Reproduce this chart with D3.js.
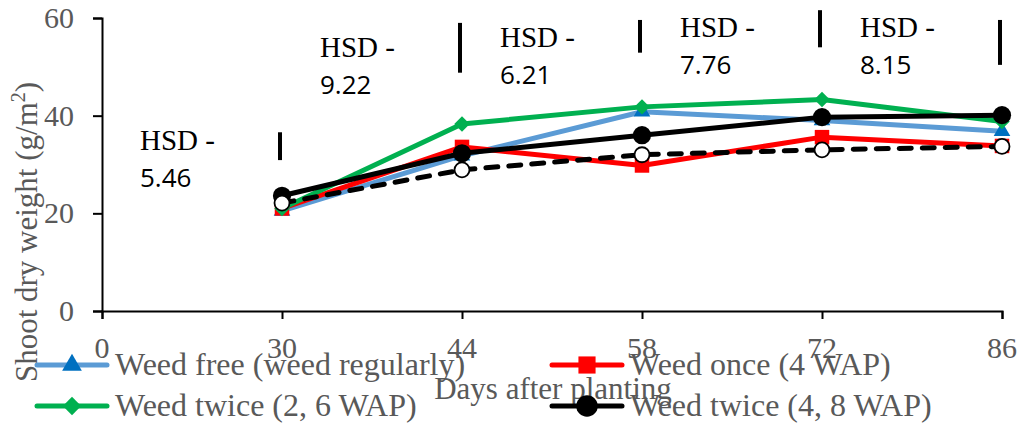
<!DOCTYPE html>
<html>
<head>
<meta charset="utf-8">
<script src="https://cdn.jsdelivr.net/npm/d3@7"></script>
<style>
    body { margin: 0; background: #fff; }
    .tick-label, .legend-text, .axis-title { font-family: "Liberation Serif", "Times New Roman", serif; fill: #595959; }
    .hsd-head { font-family: "Liberation Serif", "Times New Roman", serif; fill: #000; font-size: 29px; }
    .hsd-num { font-family: "Open Sans", sans-serif; fill: #000; font-size: 26px; }
</style>
</head>
<body>
<div id="chart"></div>
<script>
// 数据
const categories = ["0", "30", "44", "58", "72", "86"];
const days = ["30", "44", "58", "72", "86"];
const weedFree = [20.5, 31.8, 40.8, 39.0, 36.8];
const weedOnce = [21.0, 33.6, 29.8, 35.6, 33.8];
const weedTwice26 = [21.0, 38.3, 41.8, 43.3, 38.8];
const weedTwice48 = [23.6, 32.3, 36.0, 39.7, 40.1];
const weedyDashed = [22.1, 28.9, 32.0, 33.0, 33.7];
const yTicks = [0, 20, 40, 60];
const hsdValues = ["5.46", "9.22", "6.21", "7.76", "8.15"];
const hsdTop = [36.6, 59.0, 59.6, 61.6, 59.6];
const hsdBottom = [30.9, 48.8, 52.9, 54.0, 50.4];
const seriesNames = ["Weed free (weed regularly)", "Weed once (4 WAP)", "Weed twice (2, 6 WAP)", "Weed twice (4, 8 WAP)"];

let width = 1027;
let height = 427;

let svg = d3.select("#chart")
    .append("svg")
    .attr("width", width)
    .attr("height", height);

// 比例尺
let xScale = d3.scalePoint()
    .domain(categories)
    .range([102, 1002]);

let yScale = d3.scaleLinear()
    .domain([0, 60])
    .range([311, 18]);

// 菱形标记：正方形旋转45度
let diamond = {
    draw: function (context, size) {
        let r = Math.sqrt(size / 2);
        context.moveTo(0, -r);
        context.lineTo(r, 0);
        context.lineTo(0, r);
        context.lineTo(-r, 0);
        context.closePath();
    }
};

// 系列样式
let series = [
    {name: seriesNames[0], values: weedFree, line: "#5B9BD5", marker: "#0070C0", symbol: d3.symbolTriangle, size: 120},
    {name: seriesNames[1], values: weedOnce, line: "#FF0000", marker: "#FF0000", symbol: d3.symbolSquare, size: 210},
    {name: seriesNames[2], values: weedTwice26, line: "#00B050", marker: "#00B050", symbol: diamond, size: 120},
    {name: seriesNames[3], values: weedTwice48, line: "#000000", marker: "#000000", symbol: d3.symbolCircle, size: 260}
];

// 坐标轴
let xAxis = svg.append("g")
    .attr("transform", "translate(0," + yScale(0) + ")")
    .call(d3.axisBottom(xScale).tickSize(8).tickFormat(""));
xAxis.select(".domain").attr("stroke", "#000").attr("stroke-width", 2);
xAxis.selectAll(".tick line").attr("stroke", "#000").attr("stroke-width", 2);

let yAxis = svg.append("g")
    .attr("transform", "translate(" + xScale("0") + ",0)")
    .call(d3.axisLeft(yScale).tickValues(yTicks).tickSize(9).tickFormat(""));
yAxis.select(".domain").attr("stroke", "#000").attr("stroke-width", 2);
yAxis.selectAll(".tick line").attr("stroke", "#000").attr("stroke-width", 2);

// 刻度文字
svg.selectAll(".x-label")
    .data(categories)
    .enter()
    .append("text")
    .attr("class", "tick-label")
    .attr("x", d => xScale(d))
    .attr("y", 358)
    .attr("text-anchor", "middle")
    .style("font-size", "30px")
    .text(d => d);

svg.selectAll(".y-label")
    .data(yTicks)
    .enter()
    .append("text")
    .attr("class", "tick-label")
    .attr("x", 74)
    .attr("y", d => yScale(d))
    .attr("dy", "0.33em")
    .attr("text-anchor", "end")
    .style("font-size", "30px")
    .text(d => d);

// 轴标题
svg.append("text")
    .attr("class", "axis-title")
    .attr("x", 553)
    .attr("y", 399)
    .attr("text-anchor", "middle")
    .style("font-size", "31px")
    .text("Days after planting");

let yTitle = svg.append("text")
    .attr("class", "axis-title")
    .attr("transform", "translate(37,232) rotate(-90)")
    .attr("text-anchor", "middle")
    .style("font-size", "31px");
yTitle.append("tspan").text("Shoot dry weight (g/m");
yTitle.append("tspan").attr("dy", -12).style("font-size", "20px").text("2");
yTitle.append("tspan").attr("dy", 12).text(")");

// HSD 标注
let hsdLabelBase = [150, 57, 47, 37, 37];
svg.selectAll(".hsd-bar")
    .data(days)
    .enter()
    .append("line")
    .attr("x1", d => xScale(d) - 2)
    .attr("x2", d => xScale(d) - 2)
    .attr("y1", (d, i) => yScale(hsdTop[i]))
    .attr("y2", (d, i) => yScale(hsdBottom[i]))
    .attr("stroke", "#000")
    .attr("stroke-width", 4);

svg.selectAll(".hsd-head")
    .data(days)
    .enter()
    .append("text")
    .attr("class", "hsd-head")
    .attr("x", d => xScale(d) - 142)
    .attr("y", (d, i) => hsdLabelBase[i])
    .text("HSD -");

svg.selectAll(".hsd-num")
    .data(hsdValues)
    .enter()
    .append("text")
    .attr("class", "hsd-num")
    .attr("x", (d, i) => xScale(days[i]) - 142)
    .attr("y", (d, i) => hsdLabelBase[i] + 37)
    .text(d => d);

// 折线
let line = d3.line()
    .x((d, i) => xScale(days[i]))
    .y(d => yScale(d));

series.forEach(s => {
    svg.append("path")
        .datum(s.values)
        .attr("d", line)
        .attr("fill", "none")
        .attr("stroke", s.line)
        .attr("stroke-width", 5)
        .attr("stroke-linejoin", "round");
    svg.selectAll(null)
        .data(s.values)
        .enter()
        .append("path")
        .attr("d", d3.symbol().type(s.symbol).size(s.size))
        .attr("transform", (d, i) => "translate(" + xScale(days[i]) + "," + yScale(d) + ")")
        .attr("fill", s.marker);
});

// 虚线系列（无图例）
svg.append("path")
    .datum(weedyDashed)
    .attr("d", line)
    .attr("fill", "none")
    .attr("stroke", "#000")
    .attr("stroke-width", 5)
    .attr("stroke-dasharray", "12,11")
    .attr("stroke-linecap", "round");
svg.selectAll(".open-dot")
    .data(weedyDashed)
    .enter()
    .append("circle")
    .attr("cx", (d, i) => xScale(days[i]))
    .attr("cy", d => yScale(d))
    .attr("r", 7.5)
    .attr("fill", "#fff")
    .attr("stroke", "#000")
    .attr("stroke-width", 1.8);

// 图例
let legendPos = [
    {x: 37, y: 365}, {x: 552, y: 365},
    {x: 37, y: 406}, {x: 552, y: 406}
];
let legend = svg.selectAll(".legend")
    .data(series)
    .enter()
    .append("g")
    .attr("transform", (d, i) => "translate(" + legendPos[i].x + "," + legendPos[i].y + ")");
legend.append("line")
    .attr("x1", 0).attr("x2", 70)
    .attr("stroke", d => d.line)
    .attr("stroke-width", 5)
    .attr("stroke-linecap", "round");
legend.append("path")
    .attr("d", d => d3.symbol().type(d.symbol).size(d.size * 1.4)())
    .attr("transform", "translate(35,0)")
    .attr("fill", d => d.marker);
legend.append("text")
    .attr("class", "legend-text")
    .attr("x", 78)
    .attr("y", 10)
    .style("font-size", "32px")
    .text(d => d.name);
</script>
</body>
</html>
